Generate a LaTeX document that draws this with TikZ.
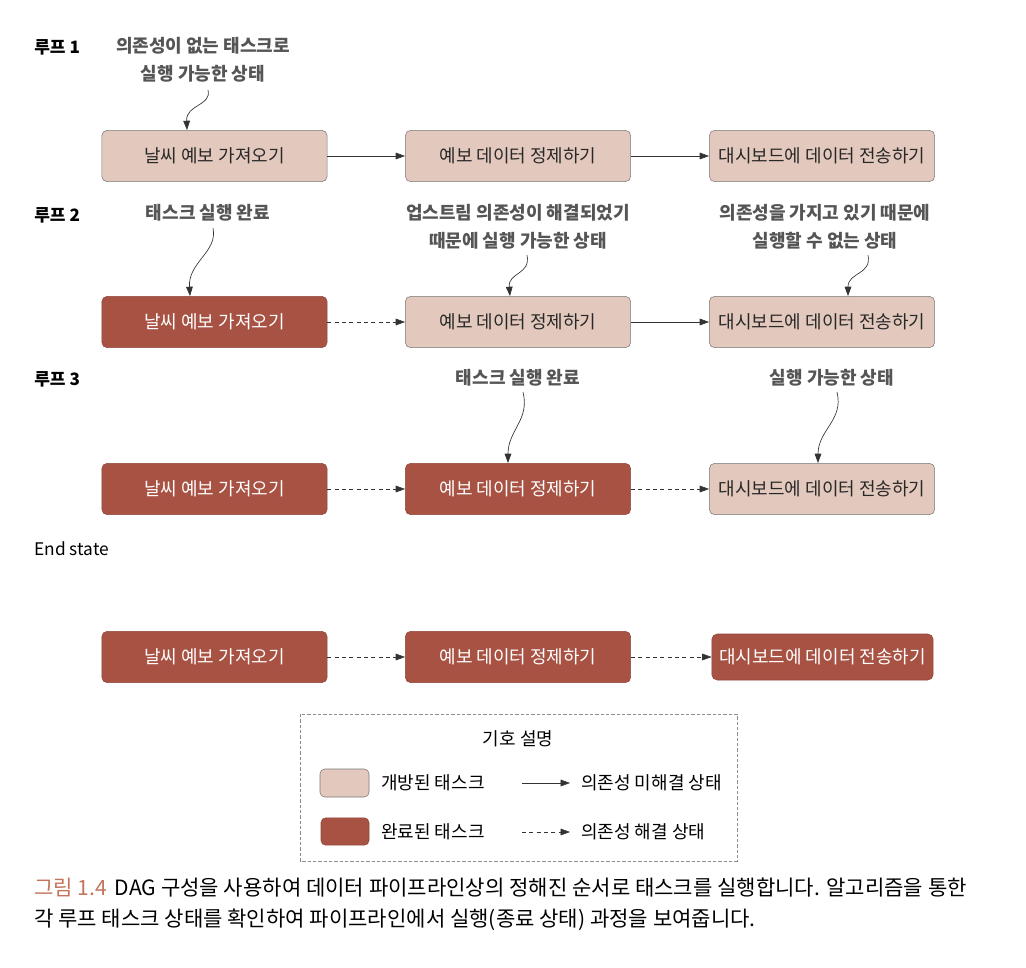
\documentclass[tikz,border=0pt]{standalone}
\usepackage{fontspec}
\setmainfont{Noto Sans CJK KR}
\usetikzlibrary{arrows.meta,calc}
\definecolor{openfill}{RGB}{227,201,189}
\definecolor{donefill}{RGB}{168,82,68}
\definecolor{notegray}{RGB}{85,85,85}
\definecolor{linegray}{RGB}{51,51,51}
\definecolor{capred}{RGB}{196,116,90}

\begin{document}
\begin{tikzpicture}[x=0.75pt,y=0.75pt,yscale=-1,xscale=1,
  opentask/.style={draw={rgb, 255:red, 120; green, 120; blue, 120}, fill=openfill, rounded corners=4pt, minimum width=169pt, minimum height=38.5pt, inner sep=0pt, font=\fontsize{13.5}{16}\selectfont, text={rgb, 255:red, 40; green, 40; blue, 40}},
  donetask/.style={opentask, draw=donefill!85!black, fill=donefill, text=white},
  note/.style={align=center, font=\fontsize{13.5}{21}\selectfont\bfseries, text=notegray, inner sep=0.75pt},
  looplabel/.style={anchor=west, font=\fontsize{12.8}{15}\selectfont\bfseries, inner sep=0.75pt},
  keytext/.style={anchor=west, font=\fontsize{13.5}{16}\selectfont, inner sep=0.75pt},
  pending/.style={draw=linegray, -{Triangle[length=7pt,width=5pt]}},
  resolved/.style={pending, dash pattern={on 3pt off 2.5pt}},
  pointer/.style={draw=linegray, line width=0.5pt, -{Triangle[length=7pt,width=5pt]}}
]
\useasboundingbox (0,0) rectangle (1026,968);

% Text Node
\node [looplabel] (loop1) at (33,47) {루프 1};
\node [looplabel] (loop2) at (33,215) {루프 2};
\node [looplabel] (loop3) at (33,379) {루프 3};
\node [looplabel, font=\fontsize{13}{15}\selectfont] (endst) at (33,549) {End state};

%Shape: Rectangle [row 1]
\node [opentask] (a1) at (214.5,156) {날씨 예보 가져오기};
\node [opentask] (b1) at (518,156) {예보 데이터 정제하기};
\node [opentask] (c1) at (822,156) {대시보드에 데이터 전송하기};
%Shape: Rectangle [row 2]
\node [donetask] (a2) at (214.5,322) {날씨 예보 가져오기};
\node [opentask] (b2) at (518,322) {예보 데이터 정제하기};
\node [opentask] (c2) at (822,322) {대시보드에 데이터 전송하기};
%Shape: Rectangle [row 3]
\node [donetask] (a3) at (214.5,489) {날씨 예보 가져오기};
\node [donetask] (b3) at (518,489) {예보 데이터 정제하기};
\node [opentask] (c3) at (822,489) {대시보드에 데이터 전송하기};
%Shape: Rectangle [end state]
\node [donetask] (a4) at (214.5,657) {날씨 예보 가져오기};
\node [donetask] (b4) at (518,657) {예보 데이터 정제하기};
\node [donetask, minimum width=166pt, minimum height=34.5pt] (c4) at (822.5,657) {대시보드에 데이터 전송하기};

%Straight Lines
\draw [pending] (a1) -- (b1);
\draw [pending] (b1) -- (c1);
\draw [resolved] (a2) -- (b2);
\draw [pending] (b2) -- (c2);
\draw [resolved] (a3) -- (b3);
\draw [resolved] (b3) -- (c3);
\draw [resolved] (a4) -- (b4);
\draw [resolved] (b4) -- (c4);

% Text Node
\node [note] (n11) at (203,60) {의존성이 없는 태스크로\\실행 가능한 상태};
\node [note] (n21) at (208,213) {태스크 실행 완료};
\node [note] (n22) at (518,227) {업스트림 의존성이 해결되었기\\때문에 실행 가능한 상태};
\node [note] (n23) at (825,227) {의존성을 가지고 있기 때문에\\실행할 수 없는 상태};
\node [note] (n32) at (518,378) {태스크 실행 완료};
\node [note] (n33) at (832,378) {실행 가능한 상태};

%Curve Lines
\coordinate (s11) at (208,90);
\coordinate (s21) at (213,228);
\coordinate (s22) at (527,255);
\coordinate (s23) at (868,255);
\coordinate (s32) at (523,392);
\coordinate (s33) at (837,392);
\draw [pointer] (s11) .. controls (212,106) and (186,104) .. ($(a1.north)+(-27.5,0)$);
\draw [pointer] (s21) .. controls (218,252) and (188,262) .. ($(a2.north)+(-24.5,0)$);
\draw [pointer] (s22) .. controls (531,275) and (508,272) .. ($(b2.north)+(-8,0)$);
\draw [pointer] (s23) .. controls (872,275) and (848,272) .. ($(c2.north)+(26,0)$);
\draw [pointer] (s32) .. controls (530,420) and (508,430) .. ($(b3.north)+(-10,0)$);
\draw [pointer] (s33) .. controls (844,420) and (818,430) .. ($(c3.north)+(-4,0)$);

%Shape: Rectangle [legend]
\draw [draw={rgb, 255:red, 140; green, 140; blue, 140}, dash pattern={on 2.5pt off 1.5pt}] (300,714) rectangle (737,861);
\node [font=\fontsize{13.5}{16}\selectfont, inner sep=0.75pt] (key) at (518,739) {기호 설명};
\node [opentask, minimum width=36.75pt, minimum height=21pt, rounded corners=3.5pt] (keyopen) at (344.5,783) {};
\node [donetask, minimum width=36pt, minimum height=20.5pt, rounded corners=3.5pt] (keydone) at (345,831.5) {};
\node [keytext] (keyopentxt) at (380,783) {개방된 태스크};
\node [keytext] (keydonetxt) at (380,832) {완료된 태스크};
\coordinate (l1s) at (522,783);
\coordinate (l1e) at (570,783);
\coordinate (l2s) at (522,832);
\coordinate (l2e) at (570,832);
\draw [pending] (l1s) -- (l1e);
\draw [resolved] (l2s) -- (l2e);
\node [keytext] (keytodo) at (580,783) {의존성 미해결 상태};
\node [keytext] (keydo) at (580,832) {의존성 해결 상태};

% Text Node [caption]
\node [anchor=west, font=\fontsize{15.8}{19}\selectfont, inner sep=0.75pt] (cap1) at (33,888) {{\color{capred}그림 1.4}\hspace{6pt}DAG 구성을 사용하여 데이터 파이프라인상의 정해진 순서로 태스크를 실행합니다. 알고리즘을 통한};
\node [anchor=west, font=\fontsize{15.8}{19}\selectfont, inner sep=0.75pt] (cap2) at (33,920) {각 루프 태스크 상태를 확인하여 파이프라인에서 실행(종료 상태) 과정을 보여줍니다.};

\end{tikzpicture}
\end{document}
